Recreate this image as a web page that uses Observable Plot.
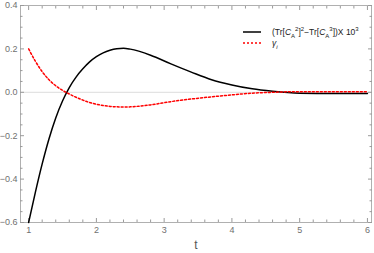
<!DOCTYPE html>
<html>
<head>
<meta charset="utf-8">
<script src="https://cdn.jsdelivr.net/npm/d3@7"></script>
<script src="https://cdn.jsdelivr.net/npm/@observablehq/plot@0.6"></script>
<style>
  body { margin: 0; background: #fff; }
  #wrap { position: relative; width: 374px; height: 253px; font-family: "Liberation Sans", Arial, sans-serif; }
  #legend { position: absolute; left: 243px; top: 26px; font-size: 8.5px; color: #222; }
  .row { position: relative; height: 11px; }
  .sw { position: absolute; left: 0; top: 3px; }
  .lbl { position: absolute; left: 29px; top: 0; white-space: nowrap; line-height: 12px; }
  sup, sub { font-size: 6px; line-height: 0; }
</style>
</head>
<body>
<div id="wrap"></div>
<script>
const t = [1.0, 1.1, 1.2, 1.3, 1.4, 1.5, 1.6, 1.7, 1.8, 1.9, 2.0, 2.1, 2.2, 2.3, 2.4, 2.5, 2.8, 3.1, 3.4, 3.7, 4.0, 4.3, 4.6, 5.0, 5.5, 6.0];
const trDiff = [-0.6, -0.46, -0.33, -0.215, -0.118, -0.04, 0.022, 0.07, 0.108, 0.14, 0.164, 0.182, 0.194, 0.201, 0.203, 0.199, 0.171, 0.131, 0.093, 0.058, 0.034, 0.016, 0.005, -0.004, -0.006, -0.006];
const gamma = [0.2, 0.143, 0.095, 0.058, 0.03, 0.009, -0.008, -0.023, -0.036, -0.047, -0.055, -0.061, -0.065, -0.067, -0.068, -0.067, -0.058, -0.043, -0.031, -0.021, -0.012, -0.004, 0.0, 0.003, 0.003, 0.003];
const xMajor = [1, 2, 3, 4, 5, 6];
const xMinor = d3.range(1, 6.001, 0.2).map(v => +v.toFixed(2)).filter(v => !xMajor.includes(v));
const yMajor = [-0.6, -0.4, -0.2, 0.0, 0.2, 0.4];
const yMinor = d3.range(-0.6, 0.4001, 0.05).map(v => +v.toFixed(2)).filter(v => !yMajor.some(m => Math.abs(m - v) < 1e-9));

const series1 = t.map((x, i) => ({t: x, v: trDiff[i]}));
const series2 = t.map((x, i) => ({t: x, v: gamma[i]}));

const tickColor = "#9a9a9a";
const labelColor = "#707070";

const chart = Plot.plot({
  width: 374,
  height: 253,
  marginLeft: 20,
  marginRight: 3,
  marginTop: 5,
  marginBottom: 31,
  style: { fontFamily: "'Liberation Sans', Arial, sans-serif", background: "#fff" },
  x: { domain: [0.88, 6.06] },
  y: { domain: [-0.6, 0.4] },
  marks: [
    Plot.ruleY([0], { stroke: "#dcdcdc", strokeWidth: 1 }),
    Plot.frame({ stroke: "#b0b0b0" }),
    Plot.axisX(xMajor, { anchor: "bottom", tickSize: 0, tickPadding: 4, fontSize: 9, fill: labelColor, label: null, tickFormat: d => d3.format("d")(d) }),
    Plot.axisY(yMajor, { anchor: "left", tickSize: 0, tickPadding: 3, fontSize: 9, fill: labelColor, label: null, tickFormat: d => d3.format(".1f")(d).replace("-", "\u2212") }),
    Plot.axisX(xMajor, { anchor: "bottom", tickSize: 4, dy: -4, fill: "none", stroke: tickColor, label: null }),
    Plot.axisX(xMinor, { anchor: "bottom", tickSize: 2.5, dy: -2.5, fill: "none", stroke: tickColor, label: null }),
    Plot.axisX(xMajor, { anchor: "top", tickSize: 4, dy: 4, fill: "none", stroke: tickColor, label: null }),
    Plot.axisX(xMinor, { anchor: "top", tickSize: 2.5, dy: 2.5, fill: "none", stroke: tickColor, label: null }),
    Plot.axisY(yMajor, { anchor: "left", tickSize: 4, dx: 4, fill: "none", stroke: tickColor, label: null }),
    Plot.axisY(yMinor, { anchor: "left", tickSize: 2.5, dx: 2.5, fill: "none", stroke: tickColor, label: null }),
    Plot.axisY(yMajor, { anchor: "right", tickSize: 4, dx: -4, fill: "none", stroke: tickColor, label: null }),
    Plot.axisY(yMinor, { anchor: "right", tickSize: 2.5, dx: -2.5, fill: "none", stroke: tickColor, label: null }),
    Plot.lineY(series1, { x: "t", y: "v", stroke: "#000", strokeWidth: 1.5, curve: "monotone-x" }),
    Plot.lineY(series2, { x: "t", y: "v", stroke: "#ff0000", strokeWidth: 1.5, strokeDasharray: "2,2", curve: "monotone-x" }),
    Plot.text(["t"], { frameAnchor: "bottom", dy: 23, fontSize: 12, fill: "#555", lineAnchor: "middle" })
  ]
});

const wrap = document.getElementById("wrap");
wrap.appendChild(chart);
const legend = document.createElement("div");
legend.id = "legend";
legend.innerHTML = `
  <div class="row"><svg class="sw" width="18" height="6"><line x1="0" x2="18" y1="3" y2="3" stroke="#000" stroke-width="1.5"/></svg>
    <span class="lbl">(Tr[<i>C</i><sub>A</sub><sup>2</sup>]<sup>2</sup>\u2212Tr[<i>C</i><sub>A</sub><sup>3</sup>])X 10<sup>3</sup></span></div>
  <div class="row"><svg class="sw" width="18" height="6"><line x1="0" x2="18" y1="3" y2="3" stroke="#ff0000" stroke-width="1.5" stroke-dasharray="2,2"/></svg>
    <span class="lbl"><i>\u03b3<sub>i</sub></i></span></div>`;
wrap.appendChild(legend);
</script>
</body>
</html>
